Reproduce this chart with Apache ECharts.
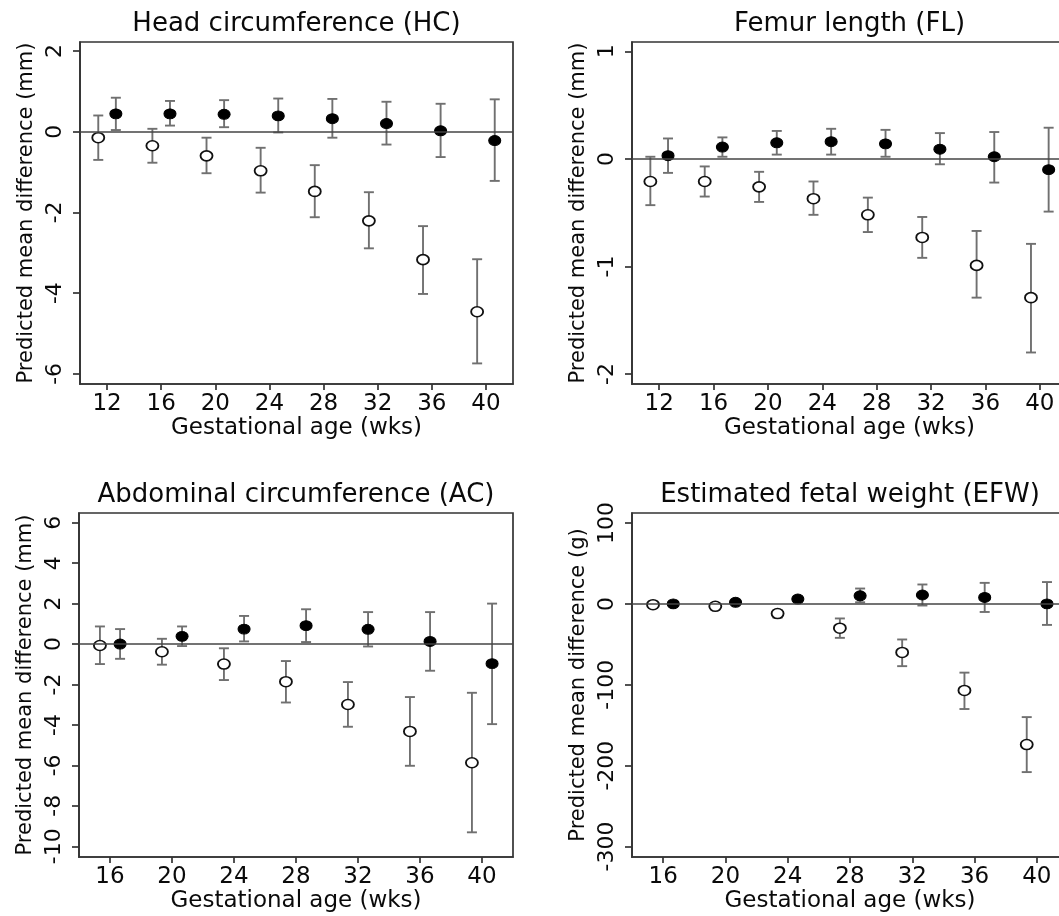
<!DOCTYPE html>
<html>
<head>
<meta charset="utf-8">
<script src="https://cdn.jsdelivr.net/npm/echarts@6/dist/echarts.min.js"></script>
<style>
  body { margin: 0; background: #fff; }
  #main { width: 1059px; height: 916px; }
</style>
</head>
<body>
<div id="main"></div>
<script>
// tick labels
const xTicksTop = [12, 16, 20, 24, 28, 32, 36, 40];
const xTicksBottom = [16, 20, 24, 28, 32, 36, 40];
const hcYTicks = [-6, -4, -2, 0, 2];
const flYTicks = [-2, -1, 0, 1];
const acYTicks = [-10, -8, -6, -4, -2, 0, 2, 4, 6];
const efwYTicks = [-300, -200, -100, 0, 100];

// gestational weeks
const weeksTop = [12, 16, 20, 24, 28, 32, 36, 40];
const weeksBottom = [16, 20, 24, 28, 32, 36, 40];

// Head circumference (mm)
const hcOpenMean = [-0.15, -0.35, -0.60, -0.97, -1.48, -2.21, -3.17, -4.46];
const hcOpenLo = [-0.70, -0.77, -1.03, -1.51, -2.12, -2.89, -4.02, -5.74];
const hcOpenHi = [0.40, 0.07, -0.15, -0.40, -0.83, -1.50, -2.34, -3.16];
const hcFillMean = [0.44, 0.44, 0.43, 0.39, 0.32, 0.20, 0.02, -0.22];
const hcFillLo = [0.04, 0.15, 0.11, -0.02, -0.15, -0.32, -0.63, -1.22];
const hcFillHi = [0.84, 0.76, 0.78, 0.82, 0.81, 0.74, 0.69, 0.80];

// Femur length (mm)
const flOpenMean = [-0.21, -0.21, -0.26, -0.37, -0.52, -0.73, -0.99, -1.29];
const flOpenLo = [-0.43, -0.35, -0.40, -0.52, -0.68, -0.92, -1.29, -1.80];
const flOpenHi = [0.02, -0.07, -0.12, -0.21, -0.36, -0.54, -0.67, -0.79];
const flFillMean = [0.03, 0.11, 0.15, 0.16, 0.14, 0.09, 0.02, -0.10];
const flFillLo = [-0.13, 0.02, 0.04, 0.04, 0.02, -0.05, -0.22, -0.49];
const flFillHi = [0.19, 0.20, 0.26, 0.28, 0.27, 0.24, 0.25, 0.29];

// Abdominal circumference (mm)
const acOpenMean = [-0.07, -0.38, -0.99, -1.86, -2.99, -4.32, -5.87];
const acOpenLo = [-0.99, -1.02, -1.78, -2.89, -4.09, -6.02, -9.31];
const acOpenHi = [0.87, 0.26, -0.21, -0.84, -1.88, -2.62, -2.41];
const acFillMean = [0.0, 0.38, 0.74, 0.91, 0.73, 0.13, -0.97];
const acFillLo = [-0.73, -0.10, 0.13, 0.10, -0.12, -1.32, -3.96];
const acFillHi = [0.74, 0.87, 1.39, 1.72, 1.58, 1.58, 2.00];

// Estimated fetal weight (g)
const efwOpenMean = [-1, -3, -12, -30, -60, -107, -174];
const efwOpenLo = [-3, -5, -17, -42, -77, -130, -208];
const efwOpenHi = [1, -1, -8, -18, -44, -85, -140];
const efwFillMean = [0, 2, 6, 10, 11, 8, 0];
const efwFillLo = [-1, 0, 3, 2, -2, -10, -26];
const efwFillHi = [1, 4, 9, 19, 24, 26, 27];

const FONT = "DejaVu Sans";
const TEXT_COLOR = "#0a0a0a";
const AXIS_COLOR = "#333";
const BAR_COLOR = "#707070";
const SHIFT = 0.65; // open markers sit left of the week, filled right

const chart = echarts.init(document.getElementById("main"));

function errorBar(params, api) {
  const top = api.coord([api.value(0), api.value(2)]);
  const bot = api.coord([api.value(0), api.value(1)]);
  const cap = 5;
  const style = { stroke: BAR_COLOR, lineWidth: 1.9 };
  return {
    type: "group",
    children: [
      { type: "line", shape: { x1: top[0], y1: top[1], x2: bot[0], y2: bot[1] }, style: style },
      { type: "line", shape: { x1: top[0] - cap, y1: top[1], x2: top[0] + cap, y2: top[1] }, style: style },
      { type: "line", shape: { x1: bot[0] - cap, y1: bot[1], x2: bot[0] + cap, y2: bot[1] }, style: style },
    ],
  };
}

const option = {
  animation: false,
  backgroundColor: "#fff",
  title: [],
  grid: [],
  xAxis: [],
  yAxis: [],
  series: [],
};

function addPanel(idx, p) {
  option.title.push({
    text: p.title,
    left: p.left + p.width / 2,
    top: p.top - 31,
    textAlign: "center",
    padding: 0,
    textStyle: { fontFamily: FONT, fontSize: 26, fontWeight: "normal", color: TEXT_COLOR },
  });
  option.grid.push({
    left: p.left,
    top: p.top,
    width: p.width,
    height: p.height,
    show: true,
    borderColor: AXIS_COLOR,
    borderWidth: 1.7,
    outerBoundsMode: "none",
  });
  const lineStyle = { color: AXIS_COLOR, width: 1.7 };
  option.xAxis.push({
    type: "value",
    gridIndex: idx,
    min: p.xMin,
    max: 42,
    name: "Gestational age (wks)",
    nameLocation: "middle",
    nameGap: 33,
    nameTextStyle: { fontFamily: FONT, fontSize: 23, color: TEXT_COLOR },
    axisLine: { show: true, onZero: false, lineStyle: lineStyle },
    axisTick: { show: true, length: 6, customValues: p.xTicks, lineStyle: lineStyle },
    axisLabel: { customValues: p.xTicks, fontFamily: FONT, fontSize: 23, color: TEXT_COLOR, margin: 9 },
    splitLine: { show: false },
  });
  option.yAxis.push({
    type: "value",
    gridIndex: idx,
    min: p.yMin,
    max: p.yMax,
    name: p.yName,
    nameLocation: "middle",
    nameGap: 43,
    nameTextStyle: { fontFamily: FONT, fontSize: 21, color: TEXT_COLOR },
    axisLine: { show: true, onZero: false, lineStyle: lineStyle },
    axisTick: { show: true, length: 7, customValues: p.yTicks, lineStyle: lineStyle },
    axisLabel: { customValues: p.yTicks, rotate: 90, fontFamily: FONT, fontSize: 22, color: TEXT_COLOR, margin: 14 },
    splitLine: { show: false },
  });

  const openPts = p.weeks.map((w, i) => [w - SHIFT, p.openMean[i]]);
  const fillPts = p.weeks.map((w, i) => [w + SHIFT, p.fillMean[i]]);
  const openBars = p.weeks.map((w, i) => [w - SHIFT, p.openLo[i], p.openHi[i]]);
  const fillBars = p.weeks.map((w, i) => [w + SHIFT, p.fillLo[i], p.fillHi[i]]);

  option.series.push(
    {
      type: "custom",
      xAxisIndex: idx,
      yAxisIndex: idx,
      renderItem: errorBar,
      data: openBars.concat(fillBars),
      z: 2,
      markLine: {
        silent: true,
        symbol: "none",
        label: { show: false },
        lineStyle: { color: "#444", width: 1.6, type: "solid" },
        data: [{ yAxis: 0 }],
      },
    },
    {
      type: "scatter",
      xAxisIndex: idx,
      yAxisIndex: idx,
      data: openPts,
      symbol: "circle",
      symbolSize: [12, 10],
      itemStyle: { color: "#fff", borderColor: "#111", borderWidth: 1.7, opacity: 1 },
      z: 3,
    },
    {
      type: "scatter",
      xAxisIndex: idx,
      yAxisIndex: idx,
      data: fillPts,
      symbol: "circle",
      symbolSize: [12, 10],
      itemStyle: { color: "#000", borderColor: "#000", borderWidth: 1, opacity: 1 },
      z: 3,
    }
  );
}

addPanel(0, {
  title: "Head circumference (HC)",
  left: 80, top: 42, width: 433, height: 342,
  xMin: 10, xTicks: xTicksTop, weeks: weeksTop,
  yMin: -6.25, yMax: 2.22, yTicks: hcYTicks,
  yName: "Predicted mean difference (mm)",
  openMean: hcOpenMean, openLo: hcOpenLo, openHi: hcOpenHi,
  fillMean: hcFillMean, fillLo: hcFillLo, fillHi: hcFillHi,
});
addPanel(1, {
  title: "Femur length (FL)",
  left: 632, top: 42, width: 435, height: 342,
  xMin: 10, xTicks: xTicksTop, weeks: weeksTop,
  yMin: -2.093, yMax: 1.087, yTicks: flYTicks,
  yName: "Predicted mean difference (mm)",
  openMean: flOpenMean, openLo: flOpenLo, openHi: flOpenHi,
  fillMean: flFillMean, fillLo: flFillLo, fillHi: flFillHi,
});
addPanel(2, {
  title: "Abdominal circumference (AC)",
  left: 79, top: 513, width: 434, height: 344,
  xMin: 14, xTicks: xTicksBottom, weeks: weeksBottom,
  yMin: -10.53, yMax: 6.48, yTicks: acYTicks,
  yName: "Predicted mean difference (mm)",
  openMean: acOpenMean, openLo: acOpenLo, openHi: acOpenHi,
  fillMean: acFillMean, fillLo: acFillLo, fillHi: acFillHi,
});
addPanel(3, {
  title: "Estimated fetal weight (EFW)",
  left: 632, top: 513, width: 436, height: 344,
  xMin: 14, xTicks: xTicksBottom, weeks: weeksBottom,
  yMin: -313, yMax: 112.4, yTicks: efwYTicks,
  yName: "Predicted mean difference (g)",
  openMean: efwOpenMean, openLo: efwOpenLo, openHi: efwOpenHi,
  fillMean: efwFillMean, fillLo: efwFillLo, fillHi: efwFillHi,
});

chart.setOption(option);
</script>
</body>
</html>
